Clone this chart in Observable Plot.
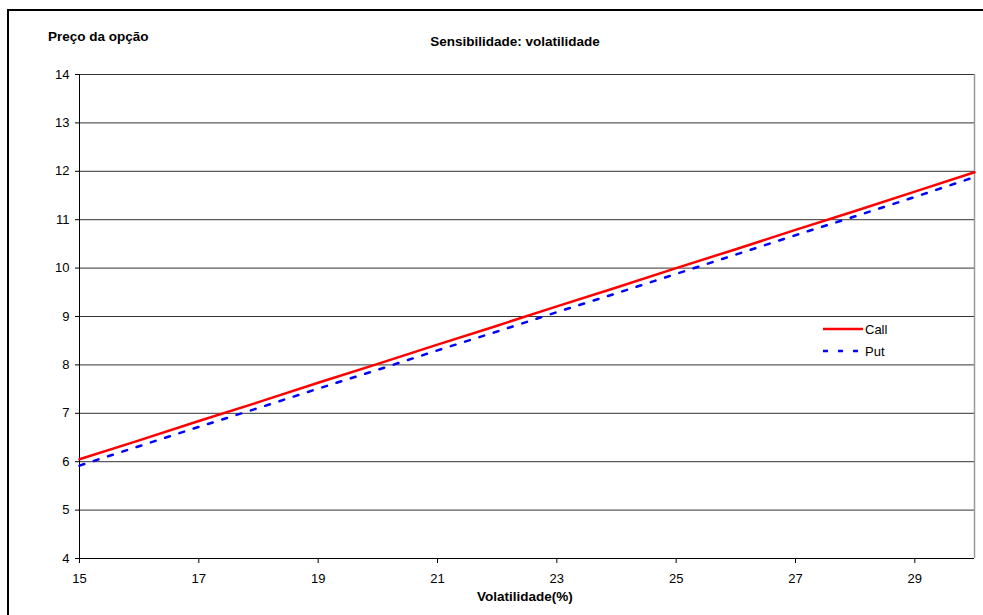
<!DOCTYPE html>
<html>
<head>
<meta charset="utf-8">
<script src="https://cdn.jsdelivr.net/npm/d3@7"></script>
<script src="https://cdn.jsdelivr.net/npm/@observablehq/plot@0.6"></script>
<style>
  html, body { margin: 0; padding: 0; background: #fff; overflow: hidden; }
  #wrap { position: relative; width: 983px; height: 615px; overflow: hidden; font-family: "Liberation Sans", Arial, sans-serif; }
  .edge { position: absolute; background: #000; }
  .lbl { position: absolute; font-weight: bold; font-size: 13.5px; color: #000; white-space: nowrap; }
  #legend { position: absolute; left: 823px; top: 318px; font-size: 13px; }
  #legend div { display: flex; align-items: center; height: 22px; }
  #legend svg { margin-right: 2px; }
  #chart svg { position: absolute; left: 0; top: 0; }
</style>
</head>
<body>
<div id="wrap">
  <div id="chart"></div>
  <div class="edge" style="left:7px; top:9px; width:976px; height:2px;"></div>
  <div class="edge" style="left:7px; top:9px; width:2px; height:606px;"></div>
  <div class="lbl" style="left:48px; top:29px;">Preço da opção</div>
  <div class="lbl" style="left:0; width:1030px; text-align:center; top:34px;">Sensibilidade: volatilidade</div>
  <div class="lbl" style="left:0; width:1050px; text-align:center; top:589px;">Volatilidade(%)</div>
  <div id="legend"></div>
</div>
<script>
const volatility = [15, 16, 17, 18, 19, 20, 21, 22, 23, 24, 25, 26, 27, 28, 29, 30];
const callPrice  = [6.05, 6.44, 6.84, 7.23, 7.63, 8.02, 8.42, 8.81, 9.21, 9.60, 10.00, 10.39, 10.79, 11.18, 11.58, 11.98];
const putPrice   = [5.92, 6.32, 6.72, 7.11, 7.51, 7.90, 8.30, 8.69, 9.09, 9.48, 9.88, 10.28, 10.68, 11.07, 11.47, 11.88];
const xTicks = [15, 17, 19, 21, 23, 25, 27, 29];
const yTicks = [4, 5, 6, 7, 8, 9, 10, 11, 12, 13, 14];
const seriesNames = ["Call", "Put"];
const seriesColors = ["#ff0000", "#0000ff"];

const callData = volatility.map((v, i) => ({v, p: callPrice[i]}));
const putData = volatility.map((v, i) => ({v, p: putPrice[i]}));

const chart = Plot.plot({
  width: 983,
  height: 615,
  marginLeft: 79,
  marginRight: 9,
  marginTop: 74,
  marginBottom: 57,
  style: {fontFamily: "'Liberation Sans', Arial, sans-serif", fontSize: "13px", color: "#000", background: "transparent"},
  x: {domain: [15, 30], label: null},
  y: {domain: [4, 14], label: null},
  marks: [
    Plot.gridY(yTicks.slice(1), {stroke: "#333", strokeOpacity: 1, strokeWidth: 1}),
    Plot.ruleX([30], {stroke: "#999", strokeWidth: 1.5}),
    Plot.ruleX([15], {stroke: "#000", strokeWidth: 1}),
    Plot.ruleY([4], {stroke: "#000", strokeWidth: 1}),
    Plot.axisX({ticks: xTicks, tickSize: 5, tickPadding: 10, stroke: "#000", fontSize: 13, tickFormat: d => String(d)}),
    Plot.axisY({ticks: yTicks, tickSize: 4, tickPadding: 6, stroke: "#000", fontSize: 13, tickFormat: d => String(d)}),
    Plot.line(putData, {x: "v", y: "p", stroke: seriesColors[1], strokeWidth: 2.5, strokeDasharray: "5,10"}),
    Plot.line(callData, {x: "v", y: "p", stroke: seriesColors[0], strokeWidth: 2.5})
  ]
});
document.getElementById("chart").appendChild(chart);

const legend = document.getElementById("legend");
seriesNames.forEach((name, i) => {
  const row = document.createElement("div");
  const dash = i === 1 ? 'stroke-dasharray="5,10"' : '';
  row.innerHTML = `<svg width="40" height="6"><line x1="0" x2="40" y1="3" y2="3" stroke="${seriesColors[i]}" stroke-width="2.5" ${dash}/></svg><span>${name}</span>`;
  legend.appendChild(row);
});
</script>
</body>
</html>
